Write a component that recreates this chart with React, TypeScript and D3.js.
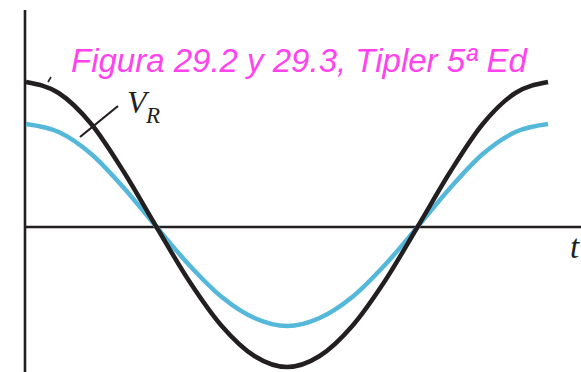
import React from "react";
import * as d3 from "d3";

// Sample instants, in sixteenths of one period
const tSamples = [0, 1, 2, 3, 4, 5, 6, 7, 8, 9, 10, 11, 12, 13, 14, 15, 16];
// Applied voltage (black curve)
const vApplied = [1.45, 1.34, 1.03, 0.55, 0, -0.54, -0.99, -1.29, -1.4, -1.29, -0.99, -0.54, 0, 0.55, 1.03, 1.34, 1.45];
// Resistor voltage V_R (blue curve)
const vResistor = [1.03, 0.95, 0.73, 0.39, 0, -0.38, -0.7, -0.91, -0.99, -0.91, -0.7, -0.38, 0, 0.39, 0.73, 0.95, 1.03];

const titleText = "Figura 29.2 y 29.3, Tipler 5ª Ed";

const W = 581;
const H = 372;

export default function App() {
  const x = d3.scaleLinear().domain([0, 16]).range([26, 548]);
  const y = d3.scaleLinear().domain([0, 1]).range([227, 127]);

  const line = d3
    .line<number>()
    .x((_, i) => x(tSamples[i]))
    .y((d) => y(d))
    .curve(d3.curveMonotoneX);

  const serif = "'Liberation Serif', 'DejaVu Serif', serif";

  return (
    <svg
      width={W}
      height={H}
      style={{ position: "fixed", left: 0, top: 0, background: "#fff" }}
    >
      {/* axes */}
      <line x1={25} y1={10} x2={25} y2={H} stroke="#231f20" strokeWidth={2.6} />
      <line x1={25} y1={y(0)} x2={W} y2={y(0)} stroke="#231f20" strokeWidth={2.6} />

      {/* curves */}
      <path d={line(vResistor) || ""} fill="none" stroke="#55b8da" strokeWidth={4.5} />
      <path d={line(vApplied) || ""} fill="none" stroke="#231f20" strokeWidth={4.5} />

      {/* V_R pointer */}
      <line x1={118} y1={106} x2={80} y2={137} stroke="#231f20" strokeWidth={2.2} />
      <line x1={48} y1={82} x2={51} y2={77} stroke="#231f20" strokeWidth={1.6} />
      <text x={127} y={113} fontFamily={serif} fontStyle="italic" fontSize={32} fill="#231f20">
        V
      </text>
      <text x={146} y={123} fontFamily={serif} fontStyle="italic" fontSize={23} fill="#231f20">
        R
      </text>

      {/* t axis label */}
      <text x={570} y={258} fontFamily={serif} fontStyle="italic" fontSize={33} fill="#231f20">
        t
      </text>

      {/* title */}
      <text
        x={71}
        y={72}
        fontFamily="'Liberation Sans', Arial, sans-serif"
        fontStyle="italic"
        fontSize={33}
        fill="#ff44ee"
      >
        {titleText}
      </text>
    </svg>
  );
}
